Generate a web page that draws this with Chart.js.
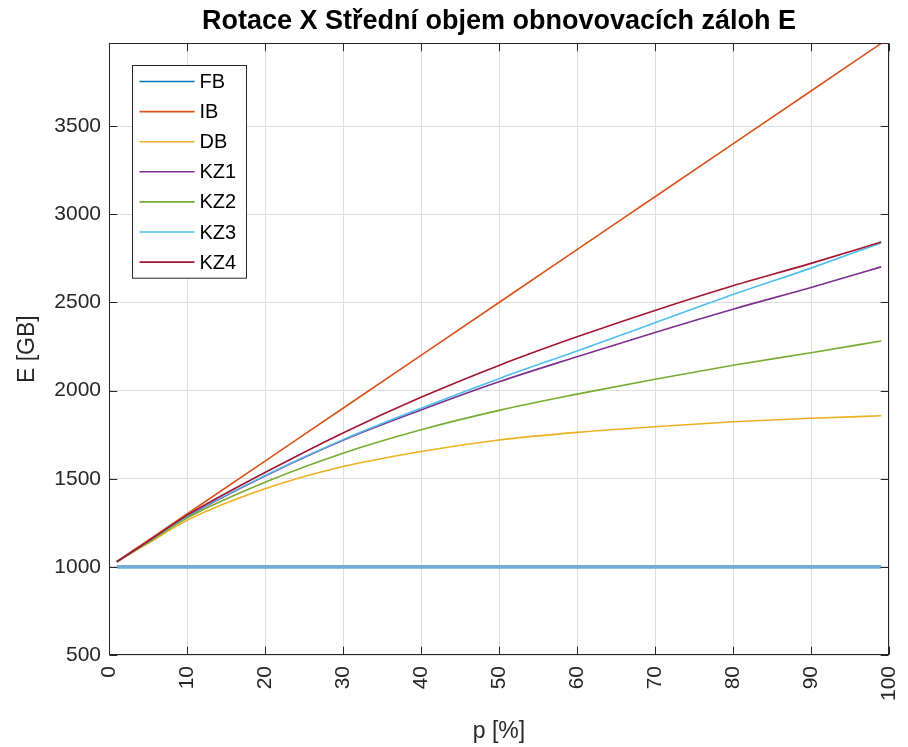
<!DOCTYPE html>
<html lang="cs">
<head>
<meta charset="utf-8">
<title>Rotace X - Střední objem obnovovacích záloh E</title>
<script src="https://cdn.jsdelivr.net/npm/chart.js@4.4.1/dist/chart.umd.min.js"></script>
<style>
  html, body { margin: 0; padding: 0; background: #fff; }
  #wrap { width: 908px; height: 747px; }
</style>
</head>
<body>
<div id="wrap"><canvas id="graf" width="908" height="747"></canvas></div>
<script>
// p [%]
const P   = [1, 5, 10, 20, 30, 40, 50, 60, 70, 80, 90, 99];
const FB  = [1000, 1000, 1000, 1000, 1000, 1000, 1000, 1000, 1000, 1000, 1000, 1000];
const IB  = [1030, 1150, 1300, 1600, 1900, 2200, 2500, 2800, 3100, 3400, 3700, 3970];
const DB  = [1029, 1133, 1264, 1443, 1569, 1655, 1720, 1763, 1795, 1823, 1843, 1857];
const KZ1 = [1029, 1142, 1284, 1515, 1718, 1890, 2050, 2192, 2330, 2462, 2585, 2702];
const KZ2 = [1029, 1138, 1277, 1480, 1645, 1778, 1888, 1980, 2065, 2144, 2215, 2282];
const KZ3 = [1029, 1143, 1287, 1518, 1722, 1900, 2068, 2225, 2385, 2545, 2695, 2838];
const KZ4 = [1029, 1145, 1292, 1535, 1760, 1962, 2143, 2305, 2455, 2595, 2722, 2843];

const NAMES  = ['FB', 'IB', 'DB', 'KZ1', 'KZ2', 'KZ3', 'KZ4'];
const SERIES = [FB, IB, DB, KZ1, KZ2, KZ3, KZ4];

const X_TICKS = [0, 10, 20, 30, 40, 50, 60, 70, 80, 90, 100];
const Y_TICKS = [500, 1000, 1500, 2000, 2500, 3000, 3500];

const TITLE = 'Rotace X Střední objem obnovovacích záloh E';
const X_LABEL = 'p [%]';
const Y_LABEL = 'E [GB]';

// barvy jako v matlabu
const COLORS = ['#0072BD', '#D95319', '#EDB120', '#7E2F8E', '#77AC30', '#4DBEEE', '#A2142F'];
const FB_PLOT_COLOR = '#72ACD8';
const FONT = "'Liberation Sans', Arial, Helvetica, sans-serif";
const AXIS = '#262626';
const GRID = '#dedede';

function buildDatasets() {
  return SERIES.map((vals, i) => ({
    label: NAMES[i],
    data: vals.map((v, j) => ({ x: P[j], y: v })),
    borderColor: i === 0 ? FB_PLOT_COLOR : COLORS[i],
    legendColor: COLORS[i],
    borderWidth: i === 0 ? 3.8 : 1.6,
    pointRadius: 0,
    fill: false,
    cubicInterpolationMode: 'monotone',
    order: NAMES.length - i
  }));
}

// ramecek os + ticky dovnitr
const boxPlugin = {
  id: 'matlabBox',
  afterDatasetsDraw(chart) {
    const { ctx, chartArea: a, scales: { x, y } } = chart;
    const L = Math.round(a.left) + 0.5, R = Math.round(a.right) - 0.5;
    const T = Math.round(a.top) + 0.5, B = Math.round(a.bottom) - 0.5;
    const len = 7.8;
    ctx.save();
    ctx.strokeStyle = AXIS;
    ctx.lineWidth = 1;
    ctx.strokeRect(L, T, R - L, B - T);
    ctx.beginPath();
    X_TICKS.forEach(v => {
      const px = Math.round(x.getPixelForValue(v)) + 0.5;
      ctx.moveTo(px, B); ctx.lineTo(px, B - len);
      ctx.moveTo(px, T); ctx.lineTo(px, T + len);
    });
    Y_TICKS.forEach(v => {
      const py = Math.round(y.getPixelForValue(v)) + 0.5;
      ctx.moveTo(L, py); ctx.lineTo(L + len, py);
      ctx.moveTo(R, py); ctx.lineTo(R - len, py);
    });
    ctx.stroke();
    ctx.restore();
  }
};

// legenda v rohu grafu
const legendPlugin = {
  id: 'matlabLegend',
  afterDraw(chart) {
    const { ctx } = chart;
    const sets = chart.data.datasets;
    const x0 = 132.5, y0 = 65.5, w = 114, rowH = 30.1;
    const h = sets.length * rowH + 2;
    ctx.save();
    ctx.fillStyle = '#fff';
    ctx.fillRect(x0, y0, w, h);
    ctx.strokeStyle = AXIS;
    ctx.lineWidth = 1;
    ctx.strokeRect(x0, y0, w, h);
    ctx.font = `20px ${FONT}`;
    ctx.textBaseline = 'middle';
    ctx.textAlign = 'left';
    sets.forEach((ds, i) => {
      const cy = y0 + 16 + i * rowH;
      ctx.strokeStyle = ds.legendColor;
      ctx.lineWidth = 1.6;
      ctx.beginPath();
      ctx.moveTo(x0 + 7, cy);
      ctx.lineTo(x0 + 62, cy);
      ctx.stroke();
      ctx.fillStyle = '#000';
      ctx.fillText(ds.label, x0 + 67, cy + 1);
    });
    ctx.restore();
  }
};

new Chart(document.getElementById('graf'), {
  type: 'line',
  data: { datasets: buildDatasets() },
  plugins: [boxPlugin, legendPlugin],
  options: {
    responsive: false,
    animation: false,
    events: [],
    layout: { padding: { left: 0, right: 19, top: 0, bottom: 0 } },
    plugins: {
      legend: { display: false },
      tooltip: { enabled: false },
      title: {
        display: true,
        fullSize: false,
        text: TITLE,
        color: '#000',
        font: { family: FONT, size: 27, weight: 'bold' },
        padding: { top: 5, bottom: 6 }
      }
    },
    scales: {
      x: {
        type: 'linear',
        min: 0,
        max: 100,
        afterBuildTicks: s => { s.ticks = X_TICKS.map(v => ({ value: v })); },
        afterFit: s => { s.height = 92; s.paddingLeft = 0; s.paddingRight = 0; },
        grid: { color: GRID, drawTicks: false },
        border: { display: false },
        ticks: {
          color: AXIS,
          font: { family: FONT, size: 21 },
          padding: 11,
          minRotation: 90,
          maxRotation: 90,
          autoSkip: false
        },
        title: {
          display: true,
          text: X_LABEL,
          color: AXIS,
          font: { family: FONT, size: 23 },
          padding: { top: 0, bottom: 2 }
        }
      },
      y: {
        min: 500,
        max: 3970,
        afterBuildTicks: s => { s.ticks = Y_TICKS.map(v => ({ value: v })); },
        afterFit: s => { s.width = 109; s.paddingTop = 0; s.paddingBottom = 0; },
        grid: { color: GRID, drawTicks: false },
        border: { display: false },
        ticks: {
          color: AXIS,
          font: { family: FONT, size: 21 },
          padding: 8,
          callback: v => String(v)
        },
        title: {
          display: true,
          text: Y_LABEL,
          color: AXIS,
          font: { family: FONT, size: 23 },
          padding: { top: 14, bottom: 0 }
        }
      }
    }
  }
});
</script>
</body>
</html>
